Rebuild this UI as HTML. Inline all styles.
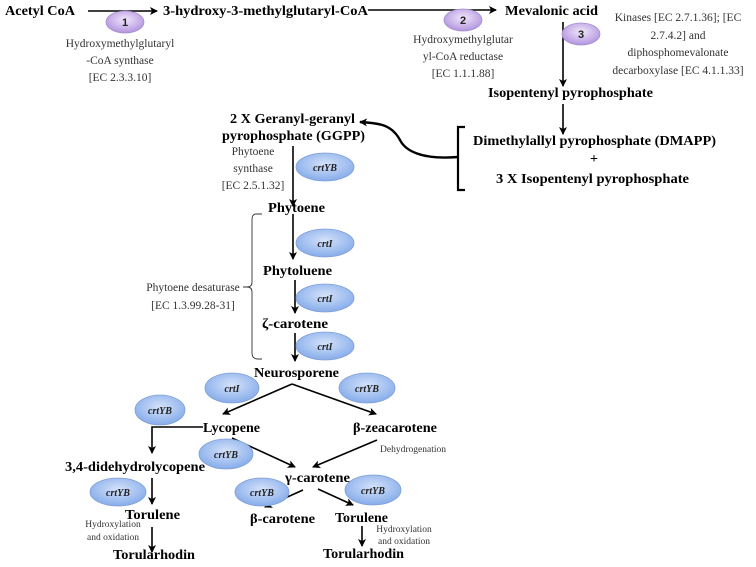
<!DOCTYPE html>
<html><head><meta charset="utf-8"><style>
html,body{margin:0;padding:0;background:#fff;}
svg{display:block;}
.b{font-family:"Liberation Serif",serif;font-weight:bold;font-size:14px;fill:#000;}
.e{font-family:"Liberation Serif",serif;font-size:11.5px;fill:#333;text-anchor:middle;}
.s{font-family:"Liberation Serif",serif;font-size:9.5px;fill:#333;text-anchor:middle;}
.c{font-family:"Liberation Serif",serif;font-weight:bold;font-style:italic;font-size:10px;fill:#222;text-anchor:middle;}
.n{font-family:"Liberation Sans",sans-serif;font-weight:bold;font-size:11px;fill:#222;text-anchor:middle;}
</style></head><body>
<svg width="756" height="567" viewBox="0 0 756 567" xmlns="http://www.w3.org/2000/svg">
<defs>
<marker id="a" markerWidth="8" markerHeight="8" refX="7" refY="4" orient="auto" markerUnits="userSpaceOnUse"><path d="M0,0 L8,4 L0,8 L2,4 z" fill="#000"/></marker>
<radialGradient id="bl" cx="50%" cy="40%" r="60%"><stop offset="0" stop-color="#d4e2fa"/><stop offset="1" stop-color="#86acea"/></radialGradient>
<radialGradient id="pu" cx="50%" cy="40%" r="60%"><stop offset="0" stop-color="#f1e6fb"/><stop offset="1" stop-color="#b294de"/></radialGradient>
</defs>
<g stroke="#000" stroke-width="1.6" fill="none">
<line x1="88" y1="11" x2="157" y2="11" marker-end="url(#a)"/>
<line x1="368" y1="10" x2="496" y2="10" marker-end="url(#a)"/>
<line x1="563" y1="22" x2="563" y2="86" marker-end="url(#a)"/>
<line x1="563" y1="104" x2="563" y2="134" marker-end="url(#a)"/>
<path d="M465,127 H458 V190 H465" stroke-width="2.2"/>
<path d="M458,157 C420,160 405,150 400,140 C392,125 380,123 360,122" stroke-width="2.4" marker-end="url(#a)"/>
<line x1="293" y1="146" x2="293" y2="206" marker-end="url(#a)"/>
<line x1="293" y1="214" x2="293" y2="259" marker-end="url(#a)"/>
<line x1="295" y1="280" x2="295" y2="313" marker-end="url(#a)"/>
<line x1="295" y1="333" x2="295" y2="361" marker-end="url(#a)"/>
<line x1="292" y1="384" x2="223" y2="414" marker-end="url(#a)"/>
<line x1="292" y1="384" x2="376" y2="414" marker-end="url(#a)"/>
<path d="M203,427 H152 V453" marker-end="url(#a)"/>
<line x1="232" y1="438" x2="295" y2="467" marker-end="url(#a)"/>
<line x1="377" y1="440" x2="313" y2="467" marker-end="url(#a)"/>
<line x1="152" y1="478" x2="152" y2="504" marker-end="url(#a)"/>
<line x1="152" y1="527" x2="152" y2="552" marker-end="url(#a)"/>
<line x1="303" y1="490" x2="265" y2="507" marker-end="url(#a)"/>
<line x1="318" y1="489" x2="353" y2="505" marker-end="url(#a)"/>
<line x1="362" y1="526" x2="362" y2="546" marker-end="url(#a)"/>
</g>
<path d="M262,214 H256 Q252,214 252,220 V282 Q252,287 247,287 Q252,287 252,292 V353 Q252,359 258,359 H262 M247,287 H243" stroke="#333" stroke-width="0.9" fill="none"/>
<g stroke="#7f9fd6" stroke-width="0.8">
<ellipse cx="325" cy="167" rx="29" ry="14" fill="url(#bl)"/>
<ellipse cx="325" cy="243" rx="29" ry="14" fill="url(#bl)"/>
<ellipse cx="325" cy="298" rx="29" ry="14" fill="url(#bl)"/>
<ellipse cx="325" cy="346" rx="29" ry="14" fill="url(#bl)"/>
<ellipse cx="232" cy="388" rx="27" ry="15" fill="url(#bl)"/>
<ellipse cx="367" cy="388" rx="28" ry="15" fill="url(#bl)"/>
<ellipse cx="160" cy="410" rx="25" ry="15" fill="url(#bl)"/>
<ellipse cx="226" cy="454" rx="27" ry="15" fill="url(#bl)"/>
<ellipse cx="118" cy="492" rx="28" ry="14" fill="url(#bl)"/>
<ellipse cx="262" cy="492" rx="27" ry="14" fill="url(#bl)"/>
<ellipse cx="373" cy="490" rx="28" ry="15" fill="url(#bl)"/>
</g>
<g stroke="#a58cd0" stroke-width="0.8">
<ellipse cx="125" cy="22" rx="19" ry="11" fill="url(#pu)"/>
<ellipse cx="463" cy="20" rx="19" ry="11" fill="url(#pu)"/>
<ellipse cx="581" cy="34" rx="19" ry="11" fill="url(#pu)"/>
</g>
<text class="n" x="125" y="26">1</text>
<text class="n" x="463" y="24">2</text>
<text class="n" x="581" y="38">3</text>
<g class="c">
<text x="325" y="171">crtYB</text><text x="325" y="247">crtI</text><text x="325" y="302">crtI</text><text x="325" y="350">crtI</text>
<text x="232" y="392">crtI</text><text x="367" y="392">crtYB</text><text x="160" y="414">crtYB</text><text x="226" y="458">crtYB</text>
<text x="118" y="496">crtYB</text><text x="262" y="496">crtYB</text><text x="373" y="494">crtYB</text>
</g>
<g class="b">
<text x="5" y="15" textLength="70" lengthAdjust="spacingAndGlyphs">Acetyl CoA</text>
<text x="163" y="15" textLength="205" lengthAdjust="spacingAndGlyphs">3-hydroxy-3-methylglutaryl-CoA</text>
<text x="505" y="15" textLength="93" lengthAdjust="spacingAndGlyphs">Mevalonic acid</text>
<text x="488" y="97" textLength="165" lengthAdjust="spacingAndGlyphs">Isopentenyl pyrophosphate</text>
<text x="473" y="145" textLength="243" lengthAdjust="spacingAndGlyphs">Dimethylallyl pyrophosphate (DMAPP)</text>
<text x="594" y="163" text-anchor="middle">+</text>
<text x="496" y="183" textLength="193" lengthAdjust="spacingAndGlyphs">3 X Isopentenyl pyrophosphate</text>
<text x="230" y="123" textLength="125" lengthAdjust="spacingAndGlyphs">2 X Geranyl-geranyl</text>
<text x="222" y="140" textLength="143" lengthAdjust="spacingAndGlyphs">pyrophosphate (GGPP)</text>
<text x="268" y="212" textLength="57" lengthAdjust="spacingAndGlyphs">Phytoene</text>
<text x="263" y="275" textLength="69" lengthAdjust="spacingAndGlyphs">Phytoluene</text>
<text x="262" y="328" textLength="66" lengthAdjust="spacingAndGlyphs">ζ-carotene</text>
<text x="254" y="377" textLength="85" lengthAdjust="spacingAndGlyphs">Neurosporene</text>
<text x="203" y="432" textLength="57" lengthAdjust="spacingAndGlyphs">Lycopene</text>
<text x="353" y="432" textLength="84" lengthAdjust="spacingAndGlyphs">β-zeacarotene</text>
<text x="65" y="471" textLength="140" lengthAdjust="spacingAndGlyphs">3,4-didehydrolycopene</text>
<text x="285" y="482" textLength="65" lengthAdjust="spacingAndGlyphs">γ-carotene</text>
<text x="125" y="519" textLength="55" lengthAdjust="spacingAndGlyphs">Torulene</text>
<text x="250" y="523" textLength="65" lengthAdjust="spacingAndGlyphs">β-carotene</text>
<text x="335" y="522" textLength="53" lengthAdjust="spacingAndGlyphs">Torulene</text>
<text x="113" y="559" textLength="82" lengthAdjust="spacingAndGlyphs">Torularhodin</text>
<text x="323" y="558" textLength="81" lengthAdjust="spacingAndGlyphs">Torularhodin</text>
</g>
<g class="e">
<text x="120" y="47">Hydroxymethylglutaryl</text><text x="120" y="64">-CoA synthase</text><text x="120" y="81">[EC 2.3.3.10]</text>
<text x="463" y="43">Hydroxymethylglutar</text><text x="463" y="60">yl-CoA reductase</text><text x="463" y="77">[EC 1.1.1.88]</text>
<text x="678" y="21">Kinases [EC 2.7.1.36]; [EC</text><text x="678" y="39">2.7.4.2] and</text><text x="678" y="56">diphosphomevalonate</text><text x="678" y="74">decarboxylase [EC 4.1.1.33]</text>
<text x="253" y="155">Phytoene</text><text x="253" y="172">synthase</text><text x="253" y="189">[EC 2.5.1.32]</text>
<text x="193" y="291">Phytoene desaturase</text><text x="193" y="309">[EC 1.3.99.28-31]</text>
</g>
<g class="s">
<text x="413" y="452">Dehydrogenation</text>
<text x="113" y="527">Hydroxylation</text><text x="113" y="540">and oxidation</text>
<text x="404" y="532">Hydroxylation</text><text x="404" y="544">and oxidation</text>
</g>
</svg>
</body></html>
